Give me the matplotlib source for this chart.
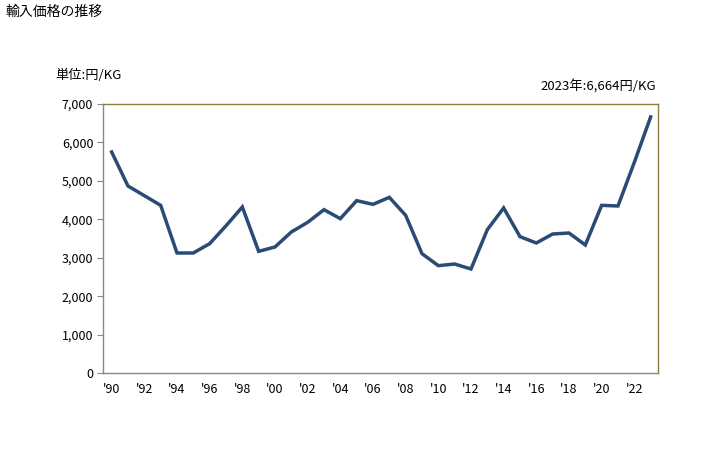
import matplotlib
matplotlib.use('Agg')
import matplotlib.pyplot as plt
from matplotlib.ticker import FuncFormatter

plt.rcParams['font.family'] = ['Noto Sans CJK JP', 'DejaVu Sans']

# data
years = list(range(1990, 2024))
prices = [5751, 4866, 4615, 4363, 3123, 3123, 3366, 3830, 4320, 3166,
          3279, 3669, 3921, 4250, 4016, 4485, 4389, 4571, 4103, 3105,
          2793, 2836, 2706, 3730, 4294, 3548, 3383, 3617, 3643, 3331,
          4363, 4346, 5482, 6664]
tick_years = list(range(1990, 2024, 2))
tick_labels = ["'%02d" % (y % 100) for y in tick_years]

fig = plt.figure(figsize=(7.28, 4.5), dpi=100)
ax = fig.add_axes([103/728, 1 - 373/450, (658-103)/728, (373-104)/450])

ax.plot(years, prices, color='#2B4B77', linewidth=2.5, solid_joinstyle='miter')

ax.set_xlim(1989.47, 2023.45)
ax.set_ylim(0, 7000)
ax.set_yticks(range(0, 7001, 1000))
ax.yaxis.set_major_formatter(FuncFormatter(lambda v, p: f'{int(v):,}'))
ax.set_xticks(tick_years)
ax.set_xticklabels(tick_labels)
ax.tick_params(axis='y', length=4, color='#888888', labelsize=9, pad=3)
ax.tick_params(axis='x', length=0, labelsize=9, pad=7)

for s in ['top', 'right']:
    ax.spines[s].set_color('#8B7D3C')
for s in ['left', 'bottom']:
    ax.spines[s].set_color('#888888')
for s in ax.spines.values():
    s.set_linewidth(1.0)

fig.text(5/728, 1 - 12/450, '輸入価格の推移', fontsize=10, va='center', ha='left')
fig.text(55/728, 1 - 75/450, '単位:円/KG', fontsize=9.5, va='center', ha='left')
fig.text(656/728, 1 - 86/450, '2023年:6,664円/KG', fontsize=9.5, va='center', ha='right')

fig.savefig('out.png', dpi=100)
